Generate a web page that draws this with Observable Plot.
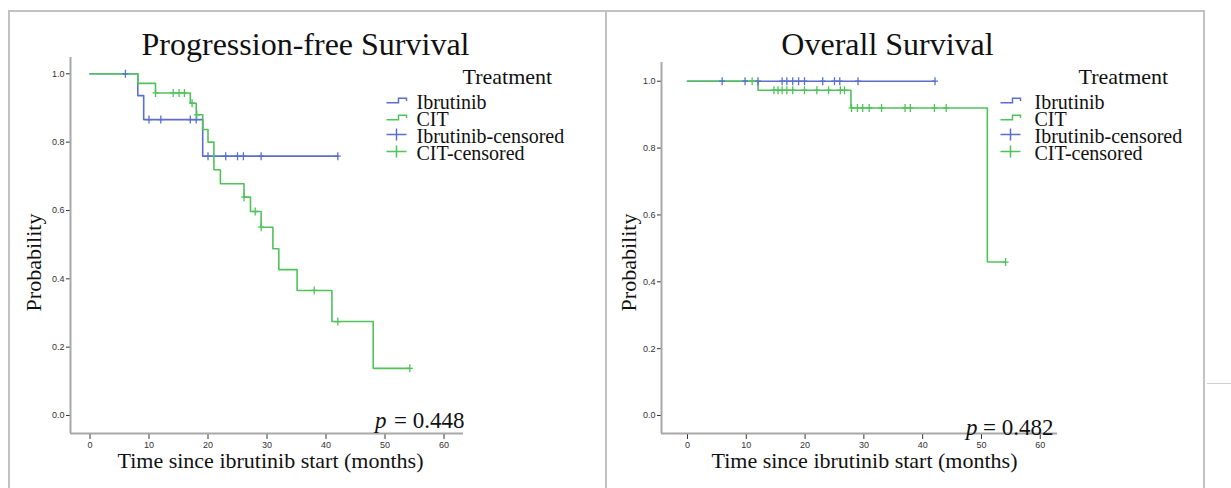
<!DOCTYPE html>
<html><head><meta charset="utf-8">
<script src="https://cdn.jsdelivr.net/npm/d3@7"></script>
<script src="https://cdn.jsdelivr.net/npm/@observablehq/plot@0.6"></script>
<style>
html,body{margin:0;padding:0;background:#fff;}
#wrap{position:relative;width:1231px;height:488px;overflow:hidden;background:#fff;}
.panel{position:absolute;top:0;}
.bd{position:absolute;border-color:#c2c2c2;border-style:solid;border-width:0;}
</style></head><body>
<div id="wrap">
  <div class="bd" style="left:8px;top:10px;width:595px;height:490px;border-left-width:2px;border-top-width:2px;border-right-width:2px;"></div>
  <div class="bd" style="left:605px;top:10px;width:598px;height:490px;border-top-width:2px;border-right-width:2px;"></div>
  <div class="bd" style="left:1207px;top:383px;width:24px;height:0;border-top-width:1px;border-color:#d0d0d0;"></div>
</div>
<script>
// ---------- data ----------
const titles = ["Progression-free Survival", "Overall Survival"];
const legendTitle = "Treatment";
const legendLabels = ["Ibrutinib", "CIT", "Ibrutinib-censored", "CIT-censored"];
const xLabel = "Time since ibrutinib start (months)";
const yLabel = "Probability";
const xTicks = [0, 10, 20, 30, 40, 50, 60];
const yTicks = [0, 0.2, 0.4, 0.6, 0.8, 1.0];
const pValues = ["0.448", "0.482"];

// Progression-free survival
const pfsIbrEventTimes = [8.1, 9.1, 19.1];
const pfsIbrSurvival   = [0.936, 0.866, 0.759];
const pfsIbrCensored   = [6, 10, 12, 17, 18, 20, 23, 25, 26, 29, 42];
const pfsCitEventTimes = [8.1, 11.1, 17.0, 18.0, 19.1, 20.0, 21.0, 22.1, 26.1, 27.2, 29.0, 31.0, 32.0, 35.1, 41.0, 48.0];
const pfsCitSurvival   = [0.972, 0.944, 0.914, 0.880, 0.837, 0.800, 0.719, 0.678, 0.639, 0.597, 0.551, 0.488, 0.427, 0.366, 0.275, 0.138];
const pfsCitCensored   = [11.1, 14.1, 15.1, 16.0, 17.3, 18.1, 26.1, 28.0, 29.0, 38.0, 42.0, 54.2];

// Overall survival
const osIbrEventTimes = [];
const osIbrSurvival   = [];
const osIbrCensored   = [5.9, 9.8, 12.0, 16.1, 16.9, 17.9, 18.9, 19.9, 23.0, 25.0, 25.9, 29.0, 42.1];
const osCitEventTimes = [12.0, 27.8, 51.0];
const osCitSurvival   = [0.973, 0.920, 0.459];
const osCitCensored   = [11.0, 14.7, 15.4, 16.1, 16.9, 17.9, 19.9, 22.0, 24.0, 26.0, 26.7, 27.9, 28.9, 29.8, 30.9, 33.0, 37.0, 37.9, 42.0, 44.0, 54.1];

const colors = {Ibrutinib: "#5b6fcb", CIT: "#4fc35a"};

// ---------- helpers ----------
function kmLine(times, surv, censored) {
  const pts = [{t: 0, s: 1}];
  times.forEach((t, i) => pts.push({t, s: surv[i]}));
  const end = Math.max(...censored, ...times);
  pts.push({t: end, s: pts[pts.length - 1].s});
  return pts;
}
function survAt(times, surv, t) {
  let s = 1;
  times.forEach((et, i) => { if (t >= et) s = surv[i]; });
  return s;
}
function kmCensor(times, surv, censored) {
  return censored.map(t => ({t, s: survAt(times, surv, t)}));
}
const plusSym = {draw(ctx) { ctx.moveTo(-3, 0); ctx.lineTo(3, 0); ctx.moveTo(0, -4); ctx.lineTo(0, 4); }};
const legPlus = {draw(ctx) { ctx.moveTo(-10, 0); ctx.lineTo(10, 0); ctx.moveTo(0, -6); ctx.lineTo(0, 6); }};
const legStep = {draw(ctx) { ctx.moveTo(-10, 2.3); ctx.lineTo(2, 2.3); ctx.lineTo(2, -2.3); ctx.lineTo(10, -2.3); ctx.lineTo(10, 0.5); }};

const SERIF = "'Liberation Serif','Times New Roman',serif";

function panel(o) {
  const at = (X, Y) => ({frameAnchor: "top-left", dx: X - o.mL, dy: Y - o.mT});
  const txt = (s, X, Y, extra) => Plot.text([s], {text: d => d, ...at(X, Y), fontFamily: SERIF, fill: "#111", lineAnchor: "bottom", ...extra});
  const ibrLine = kmLine(o.ibr[0], o.ibr[1], o.ibr[2]);
  const citLine = kmLine(o.cit[0], o.cit[1], o.cit[2]);
  const ibrCen = kmCensor(o.ibr[0], o.ibr[1], o.ibr[2]);
  const citCen = kmCensor(o.cit[0], o.cit[1], o.cit[2]);
  const symbols = [legStep, legStep, legPlus, legPlus];
  const symColors = [colors.Ibrutinib, colors.CIT, colors.Ibrutinib, colors.CIT];
  const legendMarks = [];
  legendLabels.forEach((lab, i) => {
    const base = o.legBase + i * 17;
    legendMarks.push(Plot.dot([0], {...at(o.legSym, base - 8), symbol: symbols[i], r: 4, fill: "none", stroke: symColors[i], strokeWidth: 1.5}));
    legendMarks.push(txt(lab, o.legText, base, {fontSize: 20, textAnchor: "start"}));
  });
  return Plot.plot({
    width: o.width, height: o.height,
    marginLeft: o.mL, marginRight: o.mR, marginTop: o.mT, marginBottom: o.mB,
    style: {background: "transparent", overflow: "visible", fontFamily: "'Liberation Sans',Arial,sans-serif", fontSize: "9px", color: "#333"},
    x: {domain: o.xDomain, ticks: xTicks, tickSize: 6, tickPadding: 2, label: null},
    y: {domain: o.yDomain, ticks: yTicks, tickFormat: d3.format(".1f"), tickSize: 4, tickPadding: 2, label: null},
    marks: [
      Plot.ruleX([o.xDomain[0]], {stroke: "#a8a8a8", strokeWidth: 2}),
      Plot.ruleY([o.yDomain[0]], {stroke: "#a8a8a8", strokeWidth: 2}),
      Plot.line(ibrLine, {x: "t", y: "s", curve: "step-after", stroke: colors.Ibrutinib, strokeWidth: 1.6}),
      Plot.line(citLine, {x: "t", y: "s", curve: "step-after", stroke: colors.CIT, strokeWidth: 1.6}),
      Plot.dot(ibrCen, {x: "t", y: "s", symbol: plusSym, r: 3, fill: "none", stroke: colors.Ibrutinib, strokeWidth: 1.3}),
      Plot.dot(citCen, {x: "t", y: "s", symbol: plusSym, r: 3, fill: "none", stroke: colors.CIT, strokeWidth: 1.3}),
      txt(o.title, o.titleX, 54, {fontSize: 32, textAnchor: "middle"}),
      txt(xLabel, o.xLabX, 467, {fontSize: 22, textAnchor: "middle"}),
      Plot.text([yLabel], {text: d => d, ...at(o.yLabX, 262), rotate: -90, fontFamily: SERIF, fontSize: 22, fill: "#111", textAnchor: "middle", lineAnchor: "middle"}),
      txt(legendTitle, o.legTitle, 83, {fontSize: 22, textAnchor: "start"}),
      ...legendMarks,
      txt("p", o.pX, o.pBase, {fontSize: 23, fontStyle: "italic", textAnchor: "end"}),
      txt("= " + o.p, o.pEnd, o.pBase, {fontSize: 23, textAnchor: "end"})
    ]
  });
}

const left = panel({
  width: 605, height: 488, mL: 70, mR: 142, mT: 57, mB: 55,
  xDomain: [-3.305, 63.3], yDomain: [-0.0527, 1.0477],
  ibr: [pfsIbrEventTimes, pfsIbrSurvival, pfsIbrCensored],
  cit: [pfsCitEventTimes, pfsCitSurvival, pfsCitCensored],
  title: titles[0], titleX: 305, xLabX: 270, yLabX: 33,
  legTitle: 462, legText: 416, legSym: 396, legBase: 108,
  p: pValues[0], pX: 386, pEnd: 464, pBase: 427
});
const right = panel({
  width: 626, height: 488, mL: 56, mR: 174, mT: 62, mB: 55,
  xDomain: [-4.42, 62.93], yDomain: [-0.0538, 1.056],
  ibr: [osIbrEventTimes, osIbrSurvival, osIbrCensored],
  cit: [osCitEventTimes, osCitSurvival, osCitCensored],
  title: titles[1], titleX: 282, xLabX: 259, yLabX: 23,
  legTitle: 473, legText: 429, legSym: 405, legBase: 108,
  p: pValues[1], pX: 372, pEnd: 448, pBase: 434
});
left.classList.add("panel"); left.style.left = "0px";
right.classList.add("panel"); right.style.left = "605px";
const wrap = document.getElementById("wrap");
wrap.appendChild(left);
wrap.appendChild(right);
</script>
</body></html>
